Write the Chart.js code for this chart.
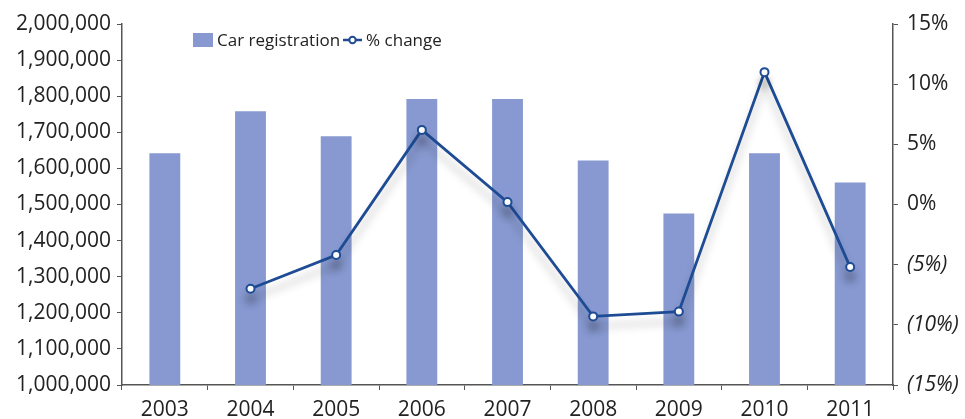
<!DOCTYPE html>
<html>
<head>
<meta charset="utf-8">
<script src="https://cdn.jsdelivr.net/npm/chart.js@4/dist/chart.umd.min.js"></script>
<style>
html,body{margin:0;padding:0;background:#fff;}
#wrap{position:relative;width:965px;height:419px;}
#legend{position:absolute;left:193px;top:28px;display:flex;align-items:center;font-family:"Open Sans",sans-serif;font-size:17px;color:#222;white-space:nowrap;}
#legend .box{display:inline-block;width:20px;height:14px;background:#8799d0;margin-right:4px;}
#legend svg{margin:0 4px 0 3px;}
</style>
</head>
<body>
<div id="wrap">
<canvas id="chart" width="965" height="419"></canvas>
<div id="legend">
<span class="box"></span><span>Car registration</span>
<svg width="19" height="12"><line x1="0" y1="6" x2="19" y2="6" stroke="#1e4c94" stroke-width="2.5"/><circle cx="9.5" cy="6" r="3.2" fill="#fff" stroke="#1e4c94" stroke-width="2"/></svg><span>% change</span>
</div>
</div>
<script>
const years = ['2003','2004','2005','2006','2007','2008','2009','2010','2011'];
const registrations = [1642000,1758000,1689000,1792000,1792000,1622000,1475000,1642000,1561000];
const pctChange = [null,-7.0,-4.2,6.2,0.2,-9.3,-8.9,11.0,-5.2];

const barColor = '#8799d0';
const lineColor = '#1e4c94';
const textColor = '#222';
const axisColor = '#555';
const fontFamily = '"Open Sans", sans-serif';

// soft drop shadow under the % change line
const lineShadow = {
  id:'lineShadow',
  beforeDatasetDraw(chart,args){
    if(chart.data.datasets[args.index].type!=='line') return;
    const c=chart.ctx;
    c.save();
    c.shadowColor='rgba(0,0,0,0.25)';
    c.shadowBlur=8;
    c.shadowOffsetY=10;
  },
  afterDatasetDraw(chart,args){
    if(chart.data.datasets[args.index].type!=='line') return;
    chart.ctx.restore();
  }
};

const ctx = document.getElementById('chart');

const myChart = new Chart(ctx,{
  data:{
    labels:years,
    datasets:[
      {
        type:'line',
        label:'% change',
        data:pctChange,
        yAxisID:'y2',
        borderColor:lineColor,
        borderWidth:2.8,
        pointRadius:4,
        pointBorderWidth:2,
        pointBackgroundColor:'#fff',
        pointBorderColor:lineColor,
        tension:0,
        order:0
      },
      {
        type:'bar',
        label:'Car registration',
        data:registrations,
        yAxisID:'y',
        backgroundColor:barColor,
        categoryPercentage:1,
        barPercentage:0.36,
        order:1
      }
    ]
  },
  options:{
    responsive:false,
    animation:false,
    layout:{padding:{top:24,left:0,right:0,bottom:0}},
    plugins:{legend:{display:false},tooltip:{enabled:false}},
    scales:{
      x:{
        offset:true,
        grid:{offset:true,drawOnChartArea:false,drawTicks:true,tickLength:5,color:axisColor},
        border:{display:true,color:axisColor,width:1.5},
        ticks:{color:textColor,font:{family:fontFamily,size:21},padding:7,maxRotation:0},
        afterFit(s){s.height=34;}
      },
      y:{
        position:'left',
        min:1000000,
        max:2000000,
        grid:{drawOnChartArea:false,drawTicks:true,tickLength:5,color:axisColor},
        border:{display:true,color:axisColor,width:1.5},
        ticks:{
          stepSize:100000,
          color:textColor,
          font:{family:fontFamily,size:21},
          padding:6,
          callback:v=>v.toLocaleString('en-US')
        },
        afterFit(s){s.width=122;}
      },
      y2:{
        position:'right',
        min:-15,
        max:15,
        grid:{drawOnChartArea:false,drawTicks:true,tickLength:5,color:axisColor},
        border:{display:true,color:axisColor,width:1.5},
        ticks:{
          stepSize:5,
          color:textColor,
          padding:9,
          font:c=>({family:fontFamily,size:21,style:c.tick&&c.tick.value<0?'italic':'normal'}),
          callback:v=>v<0?'('+(-v)+'%)':v+'%'
        },
        afterFit(s){s.width=72;}
      }
    }
  },
  plugins:[lineShadow]
});
</script>
</body>
</html>
